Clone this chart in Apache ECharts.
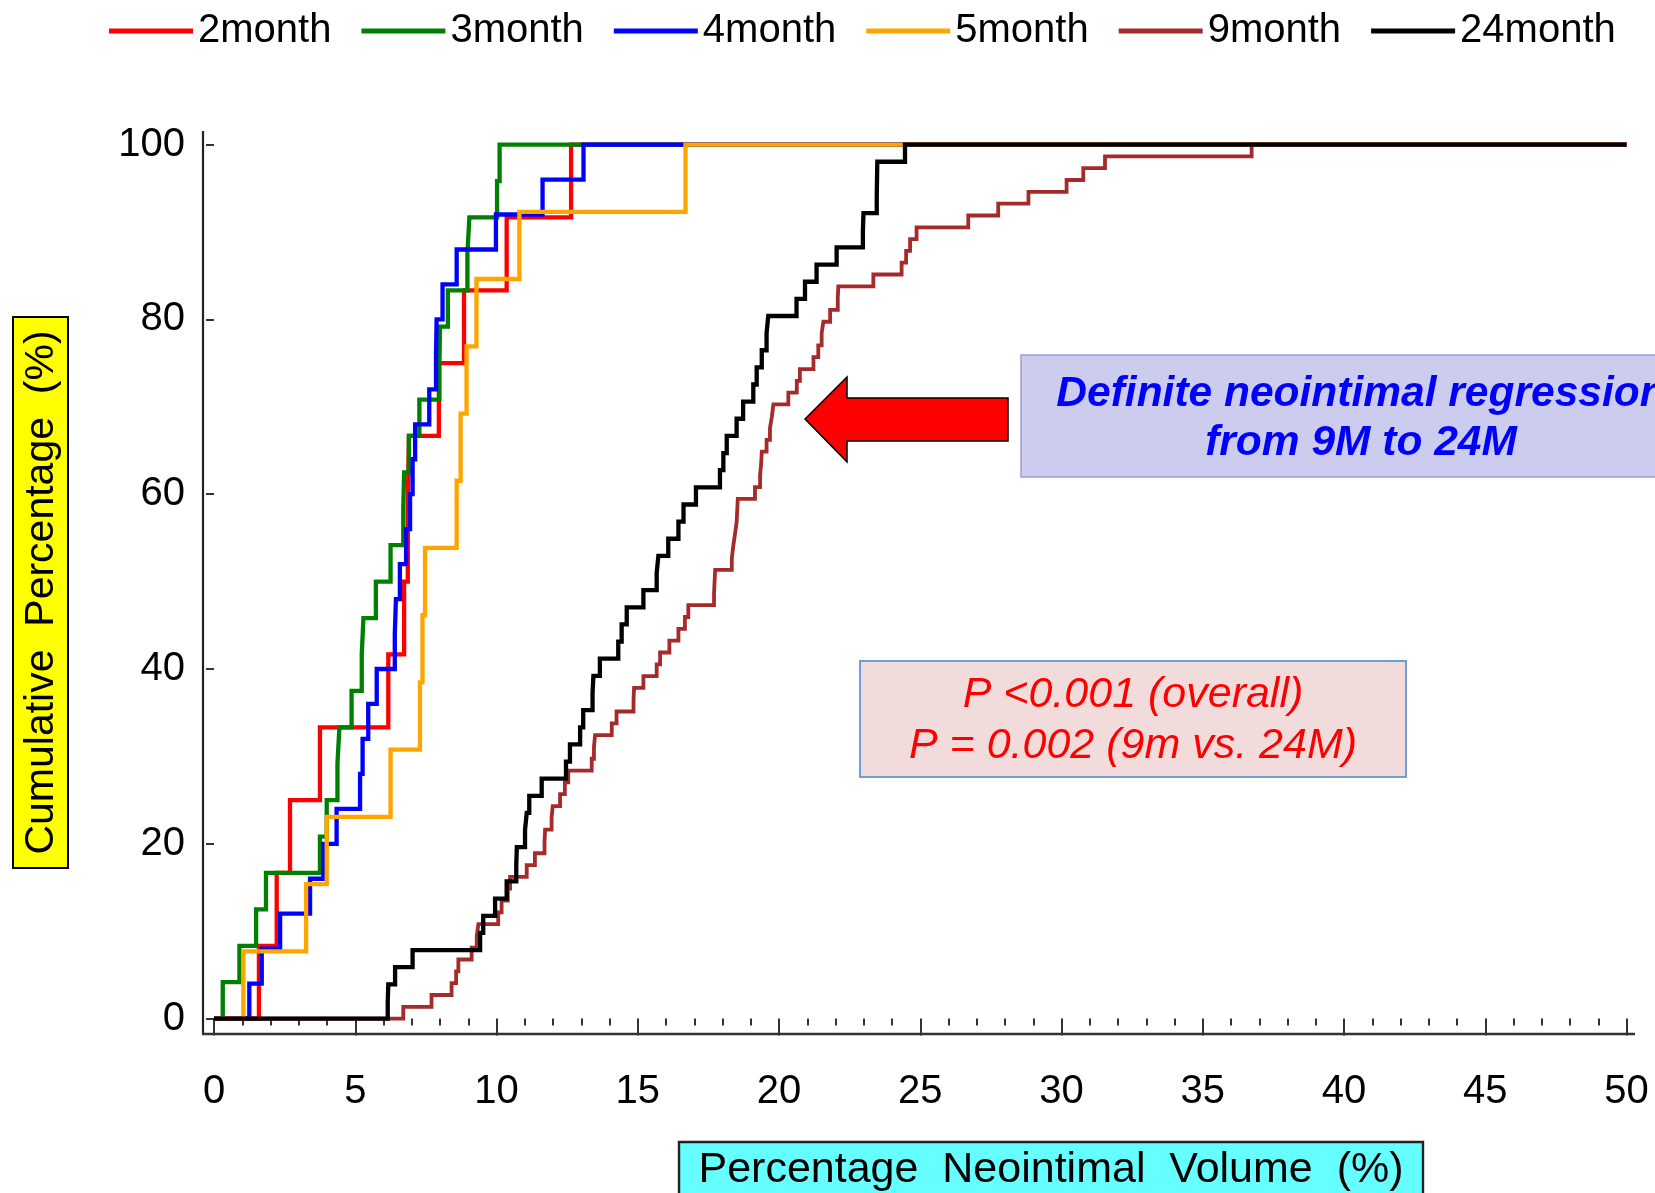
<!DOCTYPE html>
<html>
<head>
<meta charset="utf-8">
<script src="https://cdn.jsdelivr.net/npm/echarts@6/dist/echarts.min.js"></script>
<style>
  html, body { margin: 0; padding: 0; background: #ffffff; }
  #chart { width: 1655px; height: 1193px; }
</style>
</head>
<body>
<div id="chart"></div>
<script>
// Cumulative distribution of percentage neointimal volume by follow-up time.
// Each group: x = volume (%) where the curve steps up, y = cumulative percentage after the step.
const groupNames = ['2month', '3month', '4month', '5month', '9month', '24month'];
const groupColors = ['#FF0000', '#008000', '#0000FF', '#FFA500', '#A52A2A', '#000000'];

const month2X = [1.59, 2.22, 2.69, 3.75, 6.17, 6.73, 6.86, 6.90, 7.96, 8.85, 10.36, 12.64];
const month2Y = [8.33, 16.67, 25.0, 33.33, 41.67, 50.0, 58.33, 66.67, 75.0, 83.33, 91.67, 100];

const month3X = [0.31, 0.90, 1.49, 1.84, 3.75, 3.99, 4.37, 4.44, 4.87, 5.23, 5.29, 5.73,
                 6.25, 6.70, 6.73, 6.90, 7.27, 7.98, 8.00, 8.28, 8.97, 9.04, 10.02, 10.11];
const month3Y = [4.17, 8.33, 12.5, 16.67, 20.83, 25.0, 29.17, 33.33, 37.5, 41.67, 45.83, 50.0,
                 54.17, 58.33, 62.5, 66.67, 70.83, 75.0, 79.17, 83.33, 87.5, 91.67, 95.83, 100];

const month4X = [1.25, 1.69, 2.34, 3.40, 3.87, 4.34, 5.17, 5.26, 5.46, 5.76, 6.40, 6.44, 6.58,
                 6.80, 6.94, 7.03, 7.12, 7.62, 7.86, 7.88, 8.09, 8.59, 9.98, 11.63, 13.08];
const month4Y = [4, 8, 12, 16, 20, 24, 28, 32, 36, 40, 44, 48, 52,
                 56, 60, 64, 68, 72, 76, 80, 84, 88, 92, 96, 100];

const month5X = [1.04, 3.26, 3.99, 6.25, 7.29, 7.38, 7.47, 8.59, 8.73, 8.94, 9.29, 10.81, 16.69];
const month5Y = [7.69, 15.38, 23.08, 30.77, 38.46, 46.15, 53.85, 61.54, 69.23, 76.92, 84.62, 92.31, 100];

const month9X = [6.70, 7.70, 8.41, 8.57, 8.65, 9.12, 9.30, 9.36, 10.06, 10.18, 10.40, 10.48,
                 11.07, 11.36, 11.70, 11.72, 11.95, 11.99, 12.25, 12.42, 12.54, 13.37, 13.45, 13.49,
                 14.08, 14.25, 14.85, 14.87, 15.20, 15.67, 15.79, 16.12, 16.44, 16.67, 16.79, 17.70,
                 17.72, 17.74, 18.33, 18.38, 18.44, 18.50, 18.52, 18.54, 19.15, 19.33, 19.37, 19.39,
                 19.56, 19.68, 19.75, 19.80, 20.33, 20.63, 20.74, 21.22, 21.39, 21.51, 21.57, 21.81,
                 22.08, 22.10, 23.34, 24.34, 24.50, 24.64, 24.87, 26.70, 27.76, 28.83, 30.18, 30.77,
                 31.54, 36.73];
const month9Y = [1.35, 2.70, 4.05, 5.41, 6.76, 8.11, 9.46, 10.81, 12.16, 13.51, 14.86, 16.22,
                 17.57, 18.92, 20.27, 21.62, 22.97, 24.32, 25.68, 27.03, 28.38, 29.73, 31.08, 32.43,
                 33.78, 35.14, 36.49, 37.84, 39.19, 40.54, 41.89, 43.24, 44.59, 45.95, 47.30, 48.65,
                 50.00, 51.35, 52.70, 54.05, 55.41, 56.76, 58.11, 59.46, 60.81, 62.16, 63.51, 64.86,
                 66.22, 67.57, 68.92, 70.27, 71.62, 72.97, 74.32, 75.68, 77.03, 78.38, 79.73, 81.08,
                 82.43, 83.78, 85.14, 86.49, 87.84, 89.19, 90.54, 91.89, 93.24, 94.59, 95.95, 97.30,
                 98.65, 100];

const month24X = [6.15, 6.17, 6.41, 7.03, 9.42, 9.53, 9.95, 10.36, 10.70, 10.72, 11.01, 11.07,
                  11.16, 11.60, 12.46, 12.60, 12.96, 13.07, 13.40, 13.43, 13.66, 14.31, 14.43, 14.61,
                  15.20, 15.67, 15.73, 16.08, 16.44, 16.62, 17.06, 17.91, 18.03, 18.15, 18.50, 18.73,
                  19.09, 19.21, 19.39, 19.56, 19.62, 20.62, 20.92, 21.33, 22.04, 22.97, 22.99, 23.46,
                  23.47, 23.48, 24.46];
const month24Y = [1.96, 3.92, 5.88, 7.84, 9.80, 11.76, 13.73, 15.69, 17.65, 19.61, 21.57, 23.53,
                  25.49, 27.45, 29.41, 31.37, 33.33, 35.29, 37.25, 39.22, 41.18, 43.14, 45.10, 47.06,
                  49.02, 50.98, 52.94, 54.90, 56.86, 58.82, 60.78, 62.75, 64.71, 66.67, 68.63, 70.59,
                  72.55, 74.51, 76.47, 78.43, 80.39, 82.35, 84.31, 86.27, 88.24, 90.20, 92.16, 94.12,
                  96.08, 98.04, 100];

const xRange = [0, 50];
const xStep = 5;
const yRange = [0, 100];
const yStep = 20;

const groupX = [month2X, month3X, month4X, month5X, month9X, month24X];
const groupY = [month2Y, month3Y, month4Y, month5Y, month9Y, month24Y];

const FONT = "'Liberation Sans', Arial, Helvetica, sans-serif";

// Empirical CDF as a step line: start at (0,0), hold at 100% to the end of the axis
function stepData(xs, ys) {
  const pts = [[xRange[0], 0]];
  xs.forEach((x, i) => pts.push([x, ys[i]]));
  pts.push([xRange[1], 100]);
  return pts;
}

const series = groupNames.map((name, i) => ({
  name: name,
  type: 'line',
  step: 'end',
  symbol: 'none',
  showSymbol: false,
  silent: true,
  clip: false,
  data: stepData(groupX[i], groupY[i]),
  lineStyle: { color: groupColors[i], width: i === 4 ? 3.8 : 4.3, cap: 'butt', join: 'miter' },
  itemStyle: { color: groupColors[i] },
  z: 2 + i
}));

const chart = echarts.init(document.getElementById('chart'), null, { renderer: 'canvas' });

chart.setOption({
  animation: false,
  backgroundColor: '#ffffff',
  textStyle: { fontFamily: FONT },
  legend: {
    data: groupNames,
    left: 104,
    top: 6,
    icon: 'rect',
    itemWidth: 84,
    itemHeight: 5,
    itemGap: 30,
    selectedMode: false,
    textStyle: { fontSize: 40, color: '#000000', fontFamily: FONT }
  },
  grid: {
    left: 214,
    right: 28.5,
    top: 144.6,
    bottom: 174.4,
    containLabel: false,
    outerBoundsMode: 'none'
  },
  xAxis: {
    type: 'value',
    min: xRange[0],
    max: xRange[1],
    interval: xStep,
    offset: 15.4,
    axisLine: { show: false },
    axisTick: { show: true, length: 17, lineStyle: { color: '#000000', width: 1.6 } },
    minorTick: { show: true, splitNumber: 5, length: 7, lineStyle: { color: '#000000', width: 1.6 } },
    splitLine: { show: false },
    axisLabel: { fontSize: 40, color: '#000000', fontFamily: FONT, margin: 38 }
  },
  yAxis: {
    type: 'value',
    min: yRange[0],
    max: yRange[1],
    interval: yStep,
    offset: 11,
    axisLine: { show: false },
    axisTick: { show: true, length: 8, lineStyle: { color: '#000000', width: 1.6 } },
    splitLine: { show: false },
    axisLabel: { fontSize: 40, color: '#000000', fontFamily: FONT, margin: 18 }
  },
  series: series,
  graphic: [
    // axis lines
    { type: 'line', shape: { x1: 203, y1: 131, x2: 203, y2: 1035 }, style: { stroke: '#222222', lineWidth: 2.2 }, z: 10 },
    { type: 'line', shape: { x1: 202, y1: 1034, x2: 1635, y2: 1034 }, style: { stroke: '#333333', lineWidth: 2.6 }, z: 10 },

    // y-axis title on a yellow panel, reading bottom to top
    {
      type: 'group', x: 40.5, y: 592.5, rotation: Math.PI / 2, z: 20,
      children: [
        { type: 'rect', shape: { x: -275.5, y: -27.5, width: 551, height: 55 },
          style: { fill: '#FFFF00', stroke: '#000000', lineWidth: 2 } },
        { type: 'text', x: 0, y: 1,
          style: { text: 'Cumulative  Percentage  (%)', fill: '#000000', fontSize: 41, fontFamily: FONT,
                   align: 'center', verticalAlign: 'middle', textAlign: 'center', textVerticalAlign: 'middle' } }
      ]
    },

    // x-axis title on a cyan panel
    { type: 'rect', shape: { x: 679, y: 1142, width: 744, height: 70 },
      style: { fill: '#66FFFF', stroke: '#222222', lineWidth: 2.4 }, z: 20 },
    { type: 'text', x: 1051, y: 1170, z: 21,
      style: { text: 'Percentage  Neointimal  Volume  (%)', fill: '#000000', fontSize: 43, fontFamily: FONT,
               align: 'center', verticalAlign: 'middle', textAlign: 'center', textVerticalAlign: 'middle' } },

    // callout: regression between 9 and 24 months
    { type: 'rect', shape: { x: 1021, y: 355, width: 700, height: 122 },
      style: { fill: '#CCCCEE', stroke: '#9C9CD2', lineWidth: 1.5 }, z: 20 },
    { type: 'text', x: 1361, y: 419, z: 21,
      style: { text: 'Definite neointimal regression\nfrom 9M to 24M', fill: '#0000FF',
               fontSize: 42.5, fontWeight: 'bold', fontStyle: 'italic', fontFamily: FONT, lineHeight: 49,
               align: 'center', verticalAlign: 'middle', textAlign: 'center', textVerticalAlign: 'middle' } },
    { type: 'polygon', z: 20,
      shape: { points: [[805, 419], [847, 377], [847, 398], [1008, 398], [1008, 441], [847, 441], [847, 462]] },
      style: { fill: '#FF0000', stroke: '#000000', lineWidth: 1.5, lineJoin: 'miter' } },

    // p-value box
    { type: 'rect', shape: { x: 860, y: 661, width: 546, height: 116 },
      style: { fill: '#F2DCDB', stroke: '#6F9FD8', lineWidth: 2 }, z: 20 },
    { type: 'text', x: 1133, y: 721, z: 21,
      style: { text: 'P <0.001 (overall)\nP = 0.002 (9m vs. 24M)', fill: '#FF0000',
               fontSize: 43, fontStyle: 'italic', fontFamily: FONT, lineHeight: 51,
               align: 'center', verticalAlign: 'middle', textAlign: 'center', textVerticalAlign: 'middle' } }
  ]
});
</script>
</body>
</html>
